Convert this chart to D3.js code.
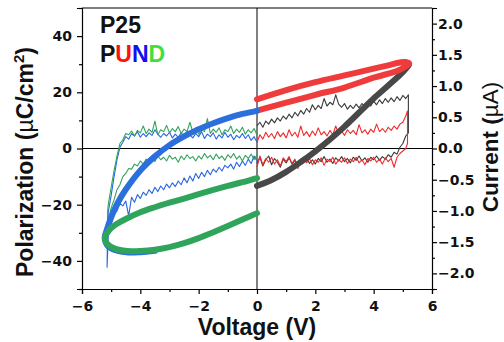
<!DOCTYPE html>
<html><head><meta charset="utf-8">
<script src="https://cdn.jsdelivr.net/npm/d3@7"></script>
<style>body{margin:0;background:#fff}svg{display:block}</style>
</head><body>
<svg id="c" width="504" height="342"></svg>
<script>
// ---- axes ticks ----
const xTicks = [-6,-4,-2,0,2,4,6];
const xMinor = [-5,-3,-1,1,3,5];
const yLTicks = [-40,-20,0,20,40];
const yLMinor = [-50,-30,-10,10,30,50];
const yRTicks = [-2.0,-1.5,-1.0,-0.5,0.0,0.5,1.0,1.5,2.0];
const yRMinor = [-2.25,-1.75,-1.25,-0.75,-0.25,0.25,0.75,1.25,1.75,2.25];

// ---- thick polarization loops [V, P] ----
const polBlack = [[0,-13.3],[0.5,-11.2],[1,-8.3],[1.5,-4.8],[2,-1],[2.5,3.2],[3,7.8],[3.5,12.8],[4,17.8],[4.5,22.4],[5,27.2],[5.2,29.6]];
const polRed = [[0,17.5],[1,20.8],[2,23.6],[3,26],[4,28.4],[4.5,29.6],[4.9,30.6],[5.1,30.8],[5.22,30.2],[5.1,29.2],[4.8,27.6],[4,25.2],[3,21.7],[2,19.1],[1,16.3],[0,13.5]];
const polBlue = [[0,13.4],[-0.5,12.3],[-1,10.8],[-1.5,9.0],[-2,6.9],[-2.5,4.3],[-3,1.2],[-3.5,-2.8],[-4,-7.8],[-4.5,-14.6],[-4.8,-19.8],[-5,-24.5],[-5.15,-29],[-5.22,-31.8],[-5.12,-34.6],[-4.85,-36.2],[-4.4,-37],[-4,-36.9],[-3.5,-36.4]];
const polGreen = [[0,-10.5],[-0.5,-12],[-1,-13.3],[-1.5,-14.7],[-2,-16.2],[-2.5,-17.8],[-3,-19.3],[-3.5,-20.9],[-4,-22.7],[-4.5,-25.1],[-4.8,-26.8],[-5,-28.3],[-5.15,-30.2],[-5.22,-31.8],[-5.18,-33.3],[-5.05,-34.7],[-4.85,-35.7],[-4.6,-36.3],[-4.3,-36.6],[-4,-36.5],[-3.5,-36],[-3,-35.1],[-2.5,-33.7],[-2,-31.9],[-1.5,-29.8],[-1,-27.6],[-0.5,-25.3],[0,-23]];

// ---- thin current traces (µA) ----
const VP = [0,0.1,0.2,0.3,0.4,0.5,0.6,0.7,0.8,0.9,1,1.1,1.2,1.3,1.4,1.5,1.6,1.7,1.8,1.9,2,2.1,2.2,2.3,2.4,2.5,2.6,2.7,2.8,2.9,3,3.1,3.2,3.3,3.4,3.5,3.6,3.7,3.8,3.9,4,4.1,4.2,4.3,4.4,4.5,4.6,4.7,4.8,4.9,5,5.1];
const VN = [0,-0.1,-0.2,-0.3,-0.4,-0.5,-0.6,-0.7,-0.8,-0.9,-1,-1.1,-1.2,-1.3,-1.4,-1.5,-1.6,-1.7,-1.8,-1.9,-2,-2.1,-2.2,-2.3,-2.4,-2.5,-2.6,-2.7,-2.8,-2.9,-3,-3.1,-3.2,-3.3,-3.4,-3.5,-3.6,-3.7,-3.8,-3.9,-4,-4.1,-4.2,-4.3,-4.4,-4.5,-4.6,-4.7,-4.8,-4.9,-5,-5.1];

const curBlackUp = [0.36,0.42,0.34,0.44,0.39,0.47,0.41,0.49,0.44,0.52,0.47,0.55,0.49,0.58,0.52,0.61,0.55,0.64,0.58,0.70,0.62,0.69,0.64,0.80,0.68,0.74,0.70,0.86,0.71,0.66,0.72,0.63,0.69,0.64,0.71,0.65,0.72,0.67,0.74,0.68,0.76,0.70,0.78,0.72,0.80,0.74,0.81,0.75,0.83,0.77,0.85,0.80];
const curBlackTurn = [[5.19,0.86],[5.19,0.25]];
const curBlackDown = [-0.24,-0.14,-0.28,-0.18,-0.12,-0.26,-0.16,-0.22,-0.30,-0.17,-0.23,-0.15,-0.25,-0.19,-0.27,-0.17,-0.22,-0.14,-0.24,-0.18,-0.25,-0.16,-0.21,-0.13,-0.22,-0.17,-0.24,-0.15,-0.20,-0.13,-0.21,-0.16,-0.23,-0.14,-0.19,-0.12,-0.20,-0.15,-0.22,-0.14,-0.18,-0.12,-0.19,-0.13,-0.17,-0.10,-0.14,-0.06,-0.09,0.02,0.08,0.20];

const curRedUp = [0.10,0.22,0.15,0.26,0.18,0.24,0.16,0.27,0.19,0.25,0.17,0.30,0.20,0.26,0.18,0.36,0.21,0.27,0.19,0.28,0.21,0.33,0.22,0.27,0.20,0.29,0.22,0.36,0.23,0.28,0.21,0.30,0.24,0.29,0.22,0.38,0.25,0.30,0.23,0.31,0.26,0.39,0.27,0.32,0.26,0.34,0.29,0.36,0.31,0.39,0.42,0.52];
const curRedTurn = [[5.16,0.60],[5.16,0.08]];
const curRedDown = [-0.30,-0.12,-0.26,-0.16,-0.22,-0.14,-0.25,-0.18,-0.28,-0.15,-0.21,-0.13,-0.24,-0.17,-0.32,-0.19,-0.14,-0.23,-0.16,-0.26,-0.18,-0.22,-0.15,-0.27,-0.17,-0.21,-0.14,-0.25,-0.18,-0.22,-0.15,-0.24,-0.17,-0.21,-0.14,-0.23,-0.18,-0.26,-0.16,-0.20,-0.14,-0.22,-0.17,-0.25,-0.15,-0.21,-0.16,-0.30,-0.14,-0.08,-0.04,0.00];

const curBlueDown = [-0.20,-0.12,-0.24,-0.17,-0.27,-0.20,-0.29,-0.22,-0.33,-0.25,-0.31,-0.27,-0.36,-0.30,-0.38,-0.33,-0.42,-0.35,-0.45,-0.38,-0.48,-0.40,-0.52,-0.44,-0.55,-0.47,-0.58,-0.52,-0.61,-0.55,-0.63,-0.57,-0.66,-0.60,-0.69,-0.62,-0.72,-0.66,-0.75,-0.70,-0.80,-0.74,-0.86,-0.78,-1.08,-0.84,-0.92,-0.88,-1.00,-1.05,-1.20,-1.40];
const curBlueTurn = [[-5.14,-1.9],[-5.13,-1.5]];
const curBlueUp = [0.10,0.19,0.13,0.22,0.16,0.24,0.17,0.21,0.14,0.23,0.18,0.26,0.17,0.22,0.15,0.25,0.19,0.23,0.16,0.27,0.19,0.24,0.17,0.22,0.28,0.20,0.25,0.18,0.23,0.17,0.26,0.20,0.24,0.18,0.23,0.30,0.21,0.25,0.19,0.24,0.18,0.27,0.20,0.24,0.15,0.19,0.10,0.02,-0.18,-0.45,-0.75,-1.02];

const curGreenDown = [-0.10,-0.18,-0.09,-0.16,-0.11,-0.20,-0.12,-0.17,-0.08,-0.15,-0.10,-0.19,-0.12,-0.16,-0.09,-0.18,-0.11,-0.15,-0.08,-0.17,-0.12,-0.20,-0.13,-0.16,-0.10,-0.18,-0.12,-0.22,-0.14,-0.17,-0.11,-0.20,-0.14,-0.18,-0.12,-0.21,-0.16,-0.22,-0.17,-0.25,-0.20,-0.28,-0.25,-0.33,-0.32,-0.40,-0.45,-0.58,-0.66,-0.82,-0.95,-1.15];
const curGreenTurn = [[-5.13,-1.28],[-5.12,-1.0]];
const curGreenUp = [0.22,0.32,0.25,0.30,0.23,0.34,0.26,0.31,0.24,0.36,0.27,0.30,0.22,0.33,0.26,0.31,0.24,0.48,0.27,0.30,0.23,0.33,0.26,0.42,0.27,0.31,0.24,0.35,0.27,0.32,0.25,0.37,0.27,0.30,0.22,0.44,0.26,0.31,0.24,0.36,0.25,0.29,0.20,0.28,0.22,0.24,0.14,0.08,-0.12,-0.35,-0.62,-0.90];

// ---- layout ----
const L = 82, R = 432, T = 8, B = 289;
const svg = d3.select("#c");
const x = d3.scaleLinear().domain([-6, 6]).range([L, R]);
const yL = d3.scaleLinear().domain([-50, 50]).range([B, T]);
const yR = d3.scaleLinear().domain([-2.25, 2.25]).range([B, T]);

const tickFont = "'DejaVu Sans', sans-serif";
const titleFont = "'Liberation Sans', Arial, sans-serif";

function styleAxis(g){
  g.selectAll("path.domain").attr("stroke","#000").attr("stroke-width",1.2);
  g.selectAll(".tick line").attr("stroke","#000").attr("stroke-width",1.2);
  g.selectAll("text").attr("font-family",tickFont).attr("font-weight","bold").attr("font-size",14).attr("fill","#111");
}
const fmtMinus = s => String(s).replace("-", "\u2212");

const gx = svg.append("g").attr("transform",`translate(0,${B})`)
  .call(d3.axisBottom(x).tickValues(xTicks).tickSize(5).tickPadding(6).tickFormat(d=>fmtMinus(d)));
styleAxis(gx);
gx.selectAll("text").attr("dy","0.78em");
svg.append("g").attr("transform",`translate(0,${B})`)
  .call(d3.axisBottom(x).tickValues(xMinor).tickSize(3).tickFormat(""))
  .call(g=>{g.select(".domain").remove(); g.selectAll("line").attr("stroke","#000").attr("stroke-width",1.2);});

const gyl = svg.append("g").attr("transform",`translate(${L},0)`)
  .call(d3.axisLeft(yL).tickValues(yLTicks).tickSize(5).tickPadding(5).tickFormat(d=>fmtMinus(d)));
styleAxis(gyl);
svg.append("g").attr("transform",`translate(${L},0)`)
  .call(d3.axisLeft(yL).tickValues(yLMinor).tickSize(3).tickFormat(""))
  .call(g=>{g.select(".domain").remove(); g.selectAll("line").attr("stroke","#000").attr("stroke-width",1.2);});

const gyr = svg.append("g").attr("transform",`translate(${R},0)`)
  .call(d3.axisRight(yR).tickValues(yRTicks).tickSize(5).tickPadding(1).tickFormat(d=>fmtMinus(d3.format(".1f")(d))));
styleAxis(gyr);
svg.append("g").attr("transform",`translate(${R},0)`)
  .call(d3.axisRight(yR).tickValues(yRMinor).tickSize(3).tickFormat(""))
  .call(g=>{g.select(".domain").remove(); g.selectAll("line").attr("stroke","#000").attr("stroke-width",1.2);});

// top border
svg.append("line").attr("x1",L).attr("x2",R).attr("y1",T).attr("y2",T).attr("stroke","#000").attr("stroke-width",1.2);

// zero lines
svg.append("line").attr("x1",x(0)).attr("x2",x(0)).attr("y1",T).attr("y2",B).attr("stroke","#000").attr("stroke-width",1);
svg.append("line").attr("x1",L).attr("x2",R).attr("y1",yL(0)).attr("y2",yL(0)).attr("stroke","#000").attr("stroke-width",1);

// thin current traces
const cur = d3.line().x(d=>x(d[0])).y(d=>yR(d[1]));
function loop(V, up, turn, down){
  const a = V.map((v,i)=>[v, up[i]]);
  const b = V.map((v,i)=>[v, down[i]]).reverse();
  return a.concat(turn, b);
}
const thin = [
  {pts: loop(VP, curBlackUp, curBlackTurn, curBlackDown), c:"#3a3a3a"},
  {pts: loop(VP, curRedUp, curRedTurn, curRedDown), c:"#f02a2a"},
  {pts: loop(VN, curBlueDown, curBlueTurn, curBlueUp), c:"#2766e0"},
  {pts: loop(VN, curGreenDown, curGreenTurn, curGreenUp), c:"#33a35a"}
];
thin.forEach(t=>{
  svg.append("path").attr("d",cur(t.pts)).attr("fill","none").attr("stroke",t.c).attr("stroke-width",1.1).attr("stroke-linejoin","round");
});

// thick polarization loops
const pol = d3.line().x(d=>x(d[0])).y(d=>yL(d[1])).curve(d3.curveCatmullRom);
[
  {pts: polBlack, c:"#484848"},
  {pts: polRed, c:"#ef3b3b"},
  {pts: polBlue, c:"#2a6fdc"},
  {pts: polGreen, c:"#2fa55c"}
].forEach(t=>{
  svg.append("path").attr("d",pol(t.pts)).attr("fill","none").attr("stroke",t.c).attr("stroke-width",6).attr("stroke-linecap","round").attr("stroke-linejoin","round");
});

// legend
svg.append("text").attr("x",100).attr("y",33).attr("font-family",titleFont).attr("font-weight","bold").attr("font-size",23).attr("fill","#111").text("P25");
const pund = svg.append("text").attr("x",100).attr("y",62).attr("font-family",titleFont).attr("font-weight","bold").attr("font-size",23);
[["P","#111"],["U","#ff1010"],["N","#1010f0"],["D","#3ee03e"]].forEach(([s,c])=>pund.append("tspan").attr("fill",c).text(s));

// axis titles
svg.append("text").attr("x",257).attr("y",335).attr("text-anchor","middle").attr("font-family",titleFont).attr("font-weight","bold").attr("font-size",23).attr("fill","#111").text("Voltage (V)");

const yt = svg.append("text").attr("transform","translate(33,162) rotate(-90)").attr("text-anchor","middle")
  .attr("font-family",titleFont).attr("font-weight","bold").attr("font-size",23).attr("fill","#111");
yt.append("tspan").text("Polarization (");
yt.append("tspan").attr("font-weight","normal").text("\u00b5");
yt.append("tspan").text("C/cm");
yt.append("tspan").attr("font-size",15).attr("dy",-9).text("2");
yt.append("tspan").attr("dy",9).text(")");

const rt = svg.append("text").attr("transform","translate(498,147) rotate(-90)").attr("text-anchor","middle")
  .attr("font-family",titleFont).attr("font-weight","bold").attr("font-size",22.5).attr("fill","#111");
rt.append("tspan").text("Current (");
rt.append("tspan").attr("font-weight","normal").text("\u00b5A)");
</script>
</body></html>
